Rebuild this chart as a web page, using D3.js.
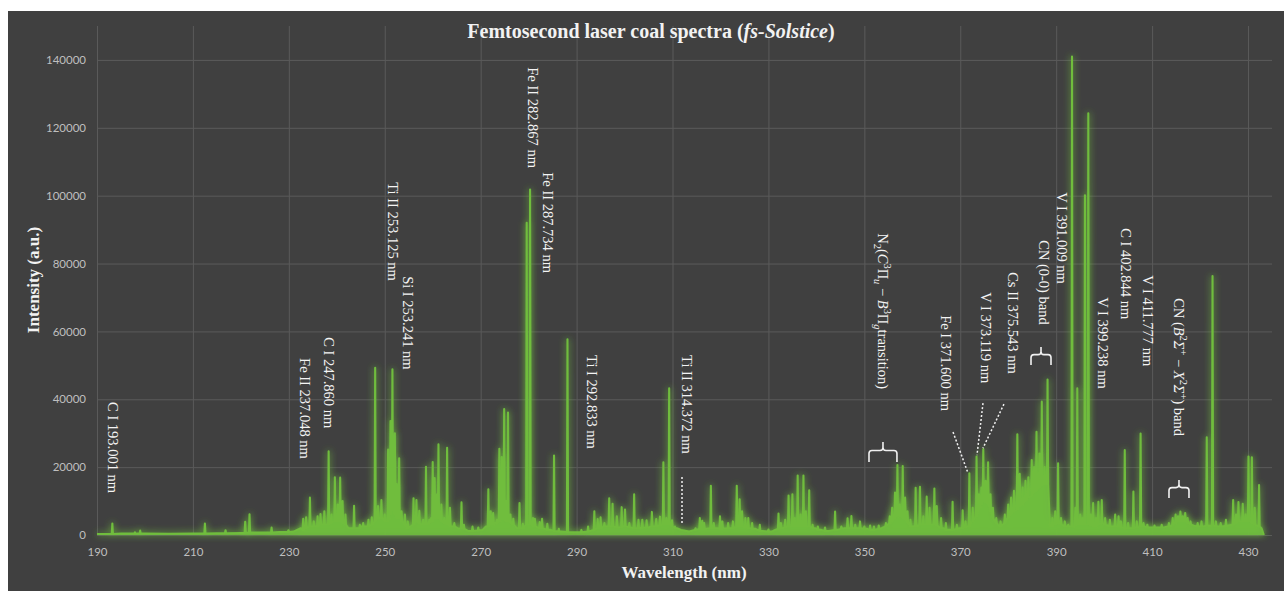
<!DOCTYPE html>
<html lang="en">
<head>
<meta charset="utf-8">
<title>Femtosecond laser coal spectra</title>
<script src="https://cdn.jsdelivr.net/npm/d3@7"></script>
<style>
  body { margin: 0; background: #fff; }
  .tick text { font-family: Lato, "Open Sans", sans-serif; font-size: 11.5px; fill: #bfbfbf; }
  .tick line { stroke: #5a5a5a; }
  .lbl { font-family: "Liberation Serif", "DejaVu Serif", serif; fill: #f4f4f4; font-size: 14.5px; }
  .ttl { font-family: "Liberation Serif", "DejaVu Serif", serif; fill: #f2f2f2; font-weight: bold; }
</style>
</head>
<body>
<div id="chart"></div>
<script>

// ------ data ------
var xTicks = [190, 210, 230, 250, 270, 290, 310, 330, 350, 370, 390, 410, 430];
var yTicks = [0, 20000, 40000, 60000, 80000, 100000, 120000, 140000];

// slowly varying background level [wavelength nm, intensity]
var continuum = [
  [190, 300], [192, 300], [195, 400], [200, 400], [205, 350], [210, 400], [215, 500], [220, 600],
  [225, 700], [228, 900], [231, 1000], [232.5, 2000], [235.6, 2500], [237.8, 3000], [239.3, 4000],
  [242.4, 2000], [245.1, 2500], [247.6, 3000], [249.7, 4500], [252.8, 5000], [254.5, 2000],
  [255.4, 2500], [257.6, 3000], [259.7, 5000], [262.7, 3500], [264.0, 2500], [265.4, 1800],
  [267.3, 1200], [270.4, 1500], [271.1, 2500], [273.0, 3500], [276.5, 3000], [277.5, 2000],
  [280.6, 3000], [282.0, 2000], [284.6, 1500], [286.8, 1000], [289.5, 800], [292.9, 1200],
  [296.3, 2500], [298.9, 2200], [302.5, 2000], [305.2, 2300], [306.1, 2500], [307.8, 3000],
  [310.9, 2000], [311.8, 1500], [313.5, 1000], [317.2, 1800], [319.3, 2000], [322.1, 2000],
  [327.3, 1800], [328.8, 1200], [330.7, 1000], [331.4, 1500], [333.0, 2000], [339.8, 2000],
  [341.0, 1500], [342.6, 1200], [344.6, 1500], [345.9, 2000], [348.6, 2000], [350.6, 1800],
  [351.6, 1500], [353.6, 2000], [359.3, 3000], [360.1, 2500], [365.6, 2200], [366.5, 2000],
  [367.7, 1500], [369.9, 2000], [371.5, 2500], [377.1, 4000], [377.9, 2800], [378.9, 3000],
  [379.7, 4500], [388.7, 2500], [389.5, 3000], [390.7, 3500], [391.4, 2800], [392.1, 2500],
  [393.7, 2500], [395.8, 3000], [397.4, 2700], [400.7, 2800], [401.8, 2500], [404.7, 2000],
  [405.5, 2000], [407.2, 2200], [409.5, 2200], [411.2, 2200], [412.6, 2300], [413.9, 2500],
  [418.7, 2700], [419.9, 2500], [420.9, 2600], [423.8, 2500], [424.9, 2600], [425.9, 2800],
  [432.8, 2000], [433.3, 0]
];

// emission lines [wavelength nm, peak intensity, floor under the line]
var peaks = [
  [193.2, 3400, 300], [197.9, 800, 400], [199.0, 1300, 400], [212.5, 3400, 400], [216.8, 1400, 500],
  [220.9, 3900, 600], [221.8, 6100, 700], [226.4, 2200, 700], [229.9, 1400, 900],
  [233.0, 4800, 1500], [233.6, 5200, 2000], [234.4, 11000, 2500], [235.2, 4000, 2500],
  [236.0, 5500, 2500], [236.6, 6200, 3000], [237.4, 7000, 3000], [238.3, 24700, 3000],
  [238.9, 6000, 3500], [239.6, 17000, 4000], [240.2, 9000, 4000], [240.7, 16900, 4000],
  [241.2, 10000, 3500], [241.8, 6000, 3000], [243.6, 8600, 2000], [244.8, 3000, 2000],
  [245.5, 3500, 2500], [246.6, 4500, 2500], [247.3, 5200, 3000], [248.0, 49300, 4000],
  [248.6, 8500, 5000], [249.3, 10300, 5000], [250.0, 6000, 4000], [250.7, 25200, 4000],
  [251.2, 33600, 6000], [251.6, 48800, 8000], [252.1, 30000, 6000], [252.5, 15000, 5000],
  [253.0, 22600, 5000], [253.5, 7000, 4000], [254.2, 6000, 3000], [254.8, 4000, 2000],
  [256.0, 10800, 3000], [256.6, 10300, 4000], [257.2, 7100, 3500], [258.0, 4500, 3000],
  [258.6, 20100, 3000], [259.3, 4500, 3500], [260.0, 21500, 4000], [260.4, 16800, 5000],
  [260.9, 12000, 5000], [261.2, 26700, 5000], [261.8, 9000, 4000], [262.4, 5000, 3500],
  [263.0, 25700, 3000], [263.6, 8000, 2500], [264.5, 3500, 2500], [266.0, 9600, 2000],
  [266.5, 3000, 1800], [268.3, 2500, 1200], [269.5, 2200, 1300],
  [271.6, 13500, 2500], [272.1, 7000, 3000], [272.6, 6500, 3000], [273.4, 4500, 3500],
  [273.9, 25400, 4000], [274.4, 23000, 4500], [274.9, 37100, 4500], [275.3, 10000, 4000],
  [275.7, 36100, 4000], [276.2, 6000, 3500], [276.8, 4800, 3000], [278.1, 9400, 2000],
  [278.8, 3300, 2000], [279.6, 92000, 3000], [280.3, 101800, 3000], [280.9, 5000, 2500],
  [281.3, 4800, 2500], [282.3, 3800, 2000], [282.8, 4800, 2000], [283.9, 3300, 1500],
  [285.3, 23400, 1200], [286.3, 1800, 1000], [288.1, 57700, 900],
  [291.0, 1500, 800], [292.4, 2500, 1000], [293.7, 7000, 1500], [294.4, 4700, 2000],
  [295.0, 5200, 2000], [295.8, 3500, 2500], [296.8, 10800, 2500], [297.5, 9200, 2500],
  [298.4, 5500, 2200], [299.4, 8200, 2300], [300.1, 7500, 2500], [301.0, 3500, 2200],
  [302.0, 12000, 2000], [302.9, 4500, 2000], [303.7, 4500, 2100], [304.6, 4300, 2200],
  [305.7, 6800, 2500], [306.6, 4700, 2500], [307.4, 5400, 2800], [308.1, 21400, 3000],
  [308.7, 5000, 3000], [309.3, 43200, 3000], [309.9, 4300, 2500], [310.5, 2500, 2000],
  [314.8, 2000, 1500], [315.7, 5000, 1800], [316.2, 4200, 1800], [316.6, 3500, 1800],
  [318.0, 14500, 2000], [318.6, 3500, 2000], [319.9, 5500, 1800], [320.4, 4000, 1800],
  [321.6, 3500, 2000], [322.6, 4000, 2000], [323.4, 14500, 2500], [324.0, 10500, 2500],
  [324.5, 7000, 2500], [325.2, 5000, 2200], [325.8, 5000, 2000], [326.6, 3500, 1800],
  [328.2, 3000, 1200], [330.0, 1600, 1000], [332.1, 6300, 1800], [332.6, 3500, 2000],
  [333.5, 4500, 2200], [334.2, 11600, 2500], [335.0, 12000, 2500], [335.5, 5000, 2500],
  [336.1, 17500, 2500], [336.7, 6000, 2500], [337.3, 17500, 2500], [337.8, 7000, 2500],
  [338.5, 13200, 2500], [339.2, 3000, 2000], [340.3, 2500, 1500], [341.8, 2200, 1200],
  [343.9, 6900, 1500], [345.2, 2500, 1800], [346.5, 4900, 2000], [347.3, 5600, 2000],
  [348.1, 3000, 2000], [349.1, 4000, 2000], [350.0, 2500, 1800], [351.2, 2800, 1500],
  [352.0, 2500, 1500], [353.0, 2800, 1800],
  [354.5, 3500, 2500], [355.3, 5500, 3500], [355.8, 8000, 4000], [356.4, 12500, 5000],
  [356.9, 20600, 6000], [357.4, 9000, 5500], [358.0, 20300, 5000], [358.5, 11000, 4500],
  [359.0, 7000, 3500], [359.6, 4500, 2500], [360.7, 13900, 2500], [361.6, 14200, 3000],
  [362.3, 5500, 3000], [363.0, 11300, 3000], [363.6, 8000, 3000], [364.6, 13700, 3000],
  [365.1, 8500, 2800], [366.0, 5000, 2000], [367.0, 3500, 1500], [368.4, 9800, 1500],
  [369.3, 3000, 1800], [370.5, 7300, 2000], [371.1, 4000, 2200],
  [371.9, 18200, 2500], [372.6, 8000, 4000], [373.4, 23100, 5500], [373.9, 12000, 7500],
  [374.4, 14000, 9000], [374.8, 25300, 10000], [375.3, 16000, 9500], [375.8, 21400, 9000],
  [376.3, 12000, 7000], [376.8, 8000, 5000], [377.5, 5000, 3500], [378.4, 4000, 2500],
  [379.3, 6000, 3500], [380.0, 9000, 5000], [380.6, 11000, 6000], [381.2, 13000, 7000],
  [381.9, 29700, 7500], [382.4, 18000, 8500], [383.0, 14000, 9000], [383.6, 16000, 10000],
  [384.2, 17000, 11000], [384.9, 22100, 11500], [385.4, 20000, 12500], [385.9, 30400, 13000],
  [386.5, 24000, 14000], [387.0, 39300, 14500], [387.6, 20000, 15000], [388.2, 45800, 15000],
  [389.2, 5000, 2500], [389.8, 7000, 3000], [390.4, 21100, 3500], [391.0, 5000, 3000],
  [391.8, 4000, 2500],
  [392.5, 3000, 2500], [393.3, 141000, 2500], [394.0, 8000, 2800], [394.4, 43200, 3000],
  [395.0, 6000, 3000], [395.5, 5000, 3000], [396.0, 100100, 3000], [396.7, 124300, 3000],
  [397.2, 6000, 2800], [397.7, 9400, 2500], [398.3, 5000, 2500], [398.8, 9800, 3000],
  [399.5, 10300, 3500], [400.2, 5000, 3000], [401.2, 4500, 2500], [402.3, 6000, 2500],
  [403.0, 5500, 2500], [403.5, 4000, 2200], [404.3, 25000, 2000], [405.0, 3500, 2000],
  [406.1, 12800, 2000], [406.8, 4000, 2200], [407.6, 29900, 2500], [408.2, 3500, 2500],
  [409.0, 3000, 2200], [410.5, 2800, 2200], [412.0, 3000, 2200],
  [413.5, 3500, 2500], [414.3, 5000, 3000], [414.9, 6000, 3500], [415.4, 5500, 4000],
  [415.9, 6900, 4000], [416.4, 5500, 4000], [416.9, 6500, 4000], [417.4, 5000, 3500],
  [418.0, 4000, 3000], [419.5, 3500, 2500], [420.3, 4000, 2500], [421.4, 28800, 2700],
  [422.6, 76300, 2700], [423.3, 4000, 2500], [424.3, 3500, 2500], [425.4, 4500, 2500],
  [426.9, 10300, 3000], [427.5, 6000, 3500], [428.0, 9700, 4000], [428.9, 9200, 4000],
  [429.5, 6000, 4000], [430.1, 23100, 4000], [430.8, 22900, 3500], [431.4, 8000, 3000],
  [432.3, 14700, 2500]
];

// line labels: [text, wavelength of column, intensity at top of text]
var labels = [
  ["C I 193.001 nm", 193.34, 39170],
  ["Fe II 237.048 nm", 233.37, 52130],
  ["C I 247.860 nm", 238.37, 58310],
  ["Ti II 253.125 nm", 251.66, 103960],
  ["Si I 253.241 nm", 254.85, 76280],
  ["Fe II 282.867 nm", 280.91, 137830],
  ["Fe II 287.734 nm", 284.04, 106900],
  ["Ti I 292.833 nm", 293.21, 53010],
  ["Ti II 314.372 nm", 313.02, 53010],
  ["N2", 353.89, 88940],
  ["Fe I 371.600 nm", 367.02, 64790],
  ["V I 373.119 nm", 375.36, 71560],
  ["Cs II 375.543 nm", 380.99, 77450],
  ["CN (0-0) band", 387.46, 86880],
  ["V I 391.009 nm", 391.21, 101010],
  ["V I 399.238 nm", 399.76, 70090],
  ["C I 402.844 nm", 404.55, 90410],
  ["V I 411.777 nm", 409.14, 76570],
  ["CNB", 415.6, 69800]
];
var n2Parts = [["N", ""], ["2", "sub"], ["(", ""], ["C", "i"], ["3", "sup"], ["\u03A0", ""], ["u", "subi"],
  [" \u2212 ", ""], ["B", "i"], ["3", "sup"], ["\u03A0", ""], ["g", "subi"], ["transition)", ""]];
var cnbParts = [["CN (", ""], ["B", "i"], ["2", "sup"], ["\u03A3", "i"], ["+", "sup"], [" \u2212 ", ""],
  ["X", "i"], ["2", "sup"], ["\u03A3", "i"], ["+", "sup"], [") band", ""]];

// dashed leaders: [wl1, v1, wl2, v2]
var leaders = [
  [311.98, 17080, 311.98, 3530],
  [368.49, 30330, 371.61, 18260],
  [374.74, 38870, 373.49, 23560],
  [379.11, 38580, 374.74, 25620]
];
// band brackets: [wl start, wl end, intensity tip, intensity ends]
var brackets = [
  [350.97, 356.8, 27390, 21500],
  [384.75, 388.92, 55370, 50065],
  [413.52, 417.69, 16200, 10900]
];
// ---------------------------------------

var W = 1284, H = 591;
var green = "#6fbd3e";

var x = d3.scaleLinear().domain([190, 435]).range([97, 1272]);
var y = d3.scaleLinear().domain([0, 150000]).range([535, 26]);

var svg = d3.select("#chart").append("svg").attr("width", W).attr("height", H);

var defs = svg.append("defs");
var f = defs.append("filter").attr("id", "glow").attr("filterUnits", "userSpaceOnUse")
  .attr("x", 0).attr("y", 0).attr("width", W).attr("height", H);
f.append("feGaussianBlur").attr("in", "SourceGraphic").attr("stdDeviation", 3.8).attr("result", "b");
f.append("feComponentTransfer").attr("in", "b").attr("result", "b2")
  .append("feFuncA").attr("type", "linear").attr("slope", 1.1);
var fm = f.append("feMerge");
fm.append("feMergeNode").attr("in", "b2");
fm.append("feMergeNode").attr("in", "SourceGraphic");

svg.append("rect").attr("x", 8).attr("y", 11).attr("width", W - 8).attr("height", H - 11).attr("fill", "#404040");

// gridlines + tick labels
svg.append("g").attr("transform", "translate(0,535)")
  .call(d3.axisBottom(x).tickValues(xTicks).tickSize(-(535 - 26)).tickPadding(13).tickFormat(d3.format("d")))
  .call(function(g){ g.select(".domain").remove(); });
svg.append("g").attr("transform", "translate(97,0)")
  .call(d3.axisLeft(y).tickValues(yTicks).tickSize(-(1272 - 97)).tickPadding(11).tickFormat(d3.format("d")))
  .call(function(g){ g.select(".domain").remove(); });

// spectrum
var HW = 0.12;
var pts = continuum.filter(function(c){
  return !peaks.some(function(p){ return Math.abs(p[0] - c[0]) < HW + 0.05; });
}).map(function(c){ return {w: c[0], v: c[1]}; });
peaks.forEach(function(p){
  pts.push({w: p[0] - HW, v: p[2]}, {w: p[0], v: p[1]}, {w: p[0] + HW, v: p[2]});
});
pts.sort(function(a, b){ return a.w - b.w; });

var gs = svg.append("g").attr("filter", "url(#glow)");
gs.append("path").datum(pts)
  .attr("d", d3.area().x(function(d){ return x(d.w); }).y0(y(0)).y1(function(d){ return y(d.v); }))
  .attr("fill", green).attr("fill-opacity", 0.9);
gs.append("path").datum(pts)
  .attr("d", d3.line().x(function(d){ return x(d.w); }).y(function(d){ return y(d.v); }))
  .attr("fill", "none").attr("stroke", green).attr("stroke-width", 2.1).attr("stroke-linejoin", "round");

// annotations
var fs = 14.5;
labels.forEach(function(l){
  var t = svg.append("text").attr("class", "lbl")
    .attr("transform", "translate(" + x(l[1]) + "," + y(l[2]) + ") rotate(90)")
    .attr("y", fs * 0.33);
  var parts = l[0] === "N2" ? n2Parts : l[0] === "CNB" ? cnbParts : null;
  if (!parts) { t.text(l[0]); return; }
  var cur = 0;
  parts.forEach(function(p){
    var s = p[1], off = 0;
    if (s.indexOf("sub") === 0) off = fs * 0.3;
    if (s.indexOf("sup") === 0) off = -fs * 0.4;
    var ts = t.append("tspan").text(p[0]).attr("dy", off - cur);
    cur = off;
    if (s === "i" || s === "subi") ts.attr("font-style", "italic");
    if (s !== "" && s !== "i") ts.attr("font-size", fs * 0.72);
  });
});

svg.selectAll(".leader").data(leaders).enter().append("line")
  .attr("x1", function(d){ return x(d[0]); }).attr("y1", function(d){ return y(d[1]); })
  .attr("x2", function(d){ return x(d[2]); }).attr("y2", function(d){ return y(d[3]); })
  .attr("stroke", "#f0f0f0").attr("stroke-width", 1.5).attr("stroke-dasharray", "2,2");

// square-ish curly brace: centre spike up, ends turned down
svg.selectAll(".brk").data(brackets).enter().append("path")
  .attr("d", function(d){
    var x0 = x(d[0]), x1 = x(d[1]), xc = (x0 + x1) / 2, yt = y(d[2]), ye = y(d[3]);
    var ym = yt + (ye - yt) * 0.42, r = 3;
    return "M" + x0 + "," + ye + "L" + x0 + "," + (ym + r) + "Q" + x0 + "," + ym + " " + (x0 + r) + "," + ym +
      "L" + (xc - r) + "," + ym + "Q" + xc + "," + ym + " " + xc + "," + (ym - r) + "L" + xc + "," + yt +
      "M" + xc + "," + (ym - r) + "Q" + xc + "," + ym + " " + (xc + r) + "," + ym +
      "L" + (x1 - r) + "," + ym + "Q" + x1 + "," + ym + " " + x1 + "," + (ym + r) + "L" + x1 + "," + ye;
  })
  .attr("fill", "none").attr("stroke", "#f0f0f0").attr("stroke-width", 1.6);

// titles
var title = svg.append("text").attr("class", "ttl").attr("x", 651).attr("y", 38)
  .attr("text-anchor", "middle").attr("font-size", 20);
title.append("tspan").text("Femtosecond laser coal spectra (");
title.append("tspan").text("fs-Solstice").attr("font-style", "italic");
title.append("tspan").text(")");

svg.append("text").attr("class", "ttl").attr("x", 684).attr("y", 578)
  .attr("text-anchor", "middle").attr("font-size", 17).text("Wavelength (nm)");
svg.append("text").attr("class", "ttl").attr("transform", "translate(39,280) rotate(-90)")
  .attr("text-anchor", "middle").attr("font-size", 17).text("Intensity (a.u.)");

</script>
</body>
</html>
